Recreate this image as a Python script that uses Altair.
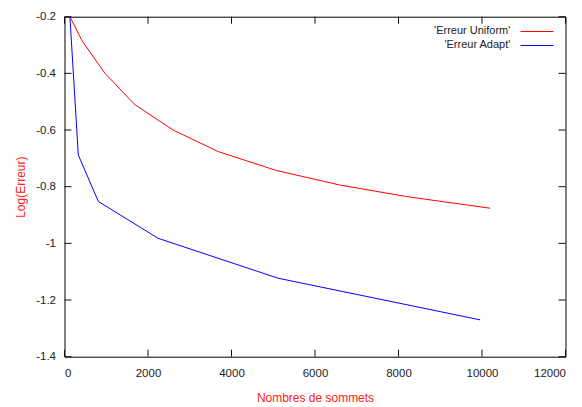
import altair as alt
import pandas as pd

# Data
uniform_x = [130, 420, 970, 1690, 2600, 3680, 5080, 6590, 8200, 10195]
uniform_y = [-0.2, -0.285, -0.4, -0.511, -0.6, -0.676, -0.743, -0.794, -0.835, -0.876]
adapt_x = [130, 330, 810, 2240, 5115, 9955]
adapt_y = [-0.2, -0.688, -0.852, -0.982, -1.123, -1.27]

series_names = ["'Erreur Uniform'", "'Erreur Adapt'"]
series_colors = ["#ff0000", "#0000ff"]
x_ticks = [0, 2000, 4000, 6000, 8000, 10000, 12000]
y_ticks = [-1.4, -1.2, -1.0, -0.8, -0.6, -0.4, -0.2]

rows = []
for i, (x, y) in enumerate(zip(uniform_x, uniform_y)):
    rows.append({"serie": series_names[0], "x": x, "y": y, "o": i})
for i, (x, y) in enumerate(zip(adapt_x, adapt_y)):
    rows.append({"serie": series_names[1], "x": x, "y": y, "o": i})
df = pd.DataFrame(rows)
xt = pd.DataFrame({"v": x_ticks})
yt = pd.DataFrame({"v": y_ticks})

FONT = "Liberation Sans"
W, H = 501, 340
TL = 7  # inward tick length

xscale = alt.Scale(domain=[0, 12000], nice=False, zero=False)
yscale = alt.Scale(domain=[-1.4, -0.2], nice=False, zero=False)

lines = alt.Chart(df).mark_line(strokeWidth=1).encode(
    x=alt.X("x:Q", scale=xscale, axis=alt.Axis(
        orient="bottom", values=x_ticks, format="d", ticks=False,
        domain=False, grid=False, labelPadding=11, labelFont=FONT, labelFontSize=11.5,
        labelColor="#222",
        title="Nombres de sommets", titleColor="#ff2020", titleFont=FONT,
        titleFontSize=12, titleFontWeight="normal", titleY=40.6, titleBaseline="middle")),
    y=alt.Y("y:Q", scale=yscale, axis=alt.Axis(
        orient="left", values=y_ticks, labelExpr="'' + datum.value", ticks=False,
        domain=False, grid=False, labelPadding=9, labelFont=FONT, labelFontSize=11.5,
        labelColor="#222",
        title="Log(Erreur)", titleColor="#ff2020", titleFont=FONT,
        titleFontSize=12, titleFontWeight="normal", titleX=-43.8, titleY=170,
        titleBaseline="middle")),
    stroke=alt.Stroke("serie:N", scale=alt.Scale(domain=series_names, range=series_colors),
                      legend=alt.Legend(
                          title=None, orient="none", legendX=466.5, legendY=8.8,
                          symbolType="M-3,0H3", symbolSize=121, symbolStrokeWidth=1,
                          labelAlign="right", labelOffset={"expr": "-32.7"}, labelFont=FONT,
                          labelFontSize=11, labelColor="#222", padding=0, rowPadding=3)),
    order="o:Q",
)

tick_color = "#111"
bottom_ticks = alt.Chart(xt).mark_rule(color=tick_color, strokeWidth=1).encode(
    x=alt.X("v:Q", scale=xscale, axis=None), y=alt.value(H), y2=alt.value(H - TL))
top_ticks = alt.Chart(xt).mark_rule(color=tick_color, strokeWidth=1).encode(
    x=alt.X("v:Q", scale=xscale, axis=None), y=alt.value(0), y2=alt.value(TL))
left_ticks = alt.Chart(yt).mark_rule(color=tick_color, strokeWidth=1).encode(
    y=alt.Y("v:Q", scale=yscale, axis=None), x=alt.value(0), x2=alt.value(TL))
right_ticks = alt.Chart(yt).mark_rule(color=tick_color, strokeWidth=1).encode(
    y=alt.Y("v:Q", scale=yscale, axis=None), x=alt.value(W), x2=alt.value(W - TL))

chart = alt.layer(lines, bottom_ticks, top_ticks, left_ticks, right_ticks).resolve_axis(
    x="independent", y="independent"
).properties(
    width=W, height=H,
    autosize=alt.AutoSizeParams(type="none"),
    padding={"left": 56.5, "top": 8.7, "right": 8, "bottom": 48},
    background="white",
).configure_view(stroke="#000", strokeWidth=1)

chart.save("out.html", embed_options={"renderer": "svg", "actions": False})
